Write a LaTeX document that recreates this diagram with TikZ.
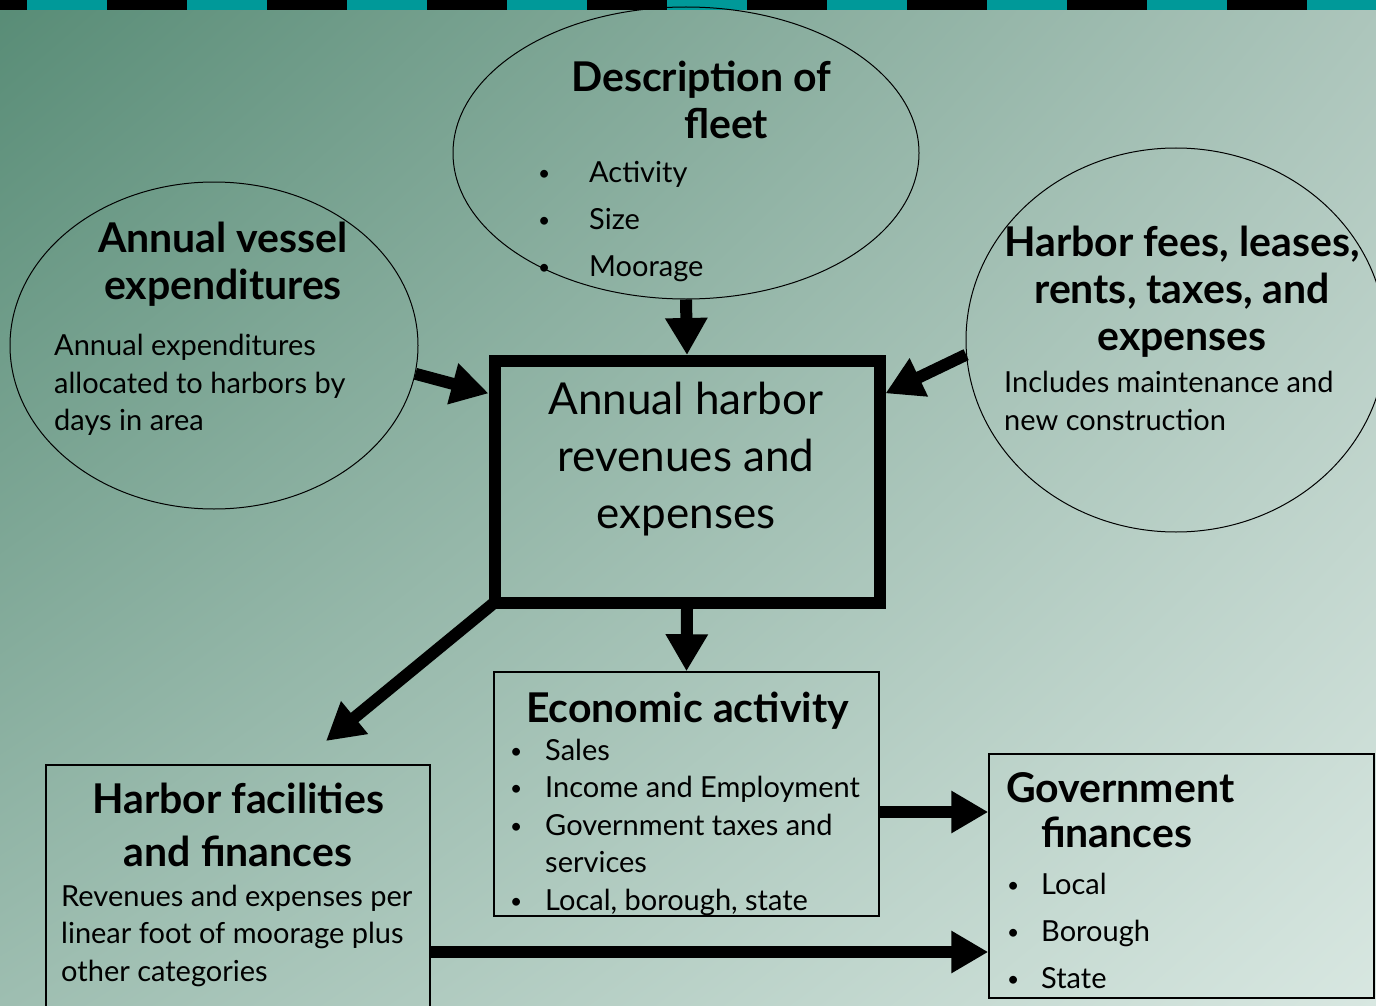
\documentclass[tikz,border=0pt]{standalone}
\usepackage{fontspec}
\setmainfont{Lato}
\usetikzlibrary{arrows.meta,shapes.geometric,shadings}

\definecolor{stripeteal}{RGB}{0,153,153}
\definecolor{bgtl}{RGB}{88,140,118}
\definecolor{bgtr}{RGB}{172,197,187}
\definecolor{bgbl}{RGB}{158,190,177}
\definecolor{bgbr}{RGB}{216,231,225}

\tikzset{
  bubble/.style={draw, ellipse, line width=1pt, inner sep=0pt},
  panel/.style={draw, line width=1.5pt, inner sep=0pt},
  bigarrow/.style={line width=12pt, -{Triangle[width=40pt,length=37pt]}},
  title/.style={font=\fontsize{41}{47}\selectfont\bfseries, align=center, inner sep=0pt},
  body/.style={font=\fontsize{29}{37.5}\selectfont, align=left, inner sep=0pt},
}
\newcommand{\bul}[1]{\makebox[#1][l]{\raisebox{2pt}{\fontsize{21}{21}\selectfont\textbullet}}}

\begin{document}
\begin{tikzpicture}[x=1pt,y=-1pt]
\useasboundingbox (0,0) rectangle (1376,1006);
\clip (0,0) rectangle (1376,1006);
% background and top stripe
\shade[upper left=bgtl, upper right=bgtr, lower left=bgbl, lower right=bgbr]
  (0,0) rectangle (1376,1006);
\fill[black] (0,0) rectangle (1376,10);
\foreach \x in {27,187,...,1347}
  \fill[stripeteal] (\x,0) rectangle ++(80,10);

% bubbles
\node[bubble, minimum width=466pt, minimum height=292pt] (fleet) at (686,153) {};
\node[bubble, minimum width=408pt, minimum height=327pt] (vessel) at (214,345.5) {};
\node[bubble, minimum width=420pt, minimum height=384pt] (fees) at (1176,340) {};

% boxes
\node[draw, line width=12pt, inner sep=0pt, minimum width=385pt, minimum height=241.5pt] (hub) at (687,481.75) {};
\node[panel, minimum width=385pt, minimum height=244pt] (econ) at (686.5,794) {};
\node[panel, minimum width=384pt, minimum height=250pt] (facil) at (238,890) {};
\node[panel, minimum width=385pt, minimum height=244pt] (gov) at (1181.5,876) {};

% texts
\node[title, anchor=west, align=left] (fleettitle) at (571,100) {Description of\\\hspace*{113pt}fleet};
\node[body, anchor=west, font=\fontsize{29}{47}\selectfont] (fleetlist) at (538,222)
  {\bul{51pt}Activity\\\bul{51pt}Size\\\bul{51pt}Moorage};
\node[title] (vesseltitle) at (223,264.5) {Annual vessel\\expenditures};
\node[body, anchor=west] (vesselbody) at (54,385) {Annual expenditures\\allocated to harbors by\\days in area};
\node[title] (feestitle) at (1182,292) {Harbor fees, leases,\\rents, taxes, and\\expenses};
\node[body, anchor=west] (feesbody) at (1004,401) {Includes maintenance and\\new construction};
\node[font=\fontsize{44}{57}\selectfont, align=center, inner sep=0pt] (hubtext) at (686,459.5)
  {Annual harbor\\revenues and\\expenses};
\node[title] (econtitle) at (687.5,711) {Economic activity};
\node[body, anchor=west] (econlist) at (510,827)
  {\bul{35pt}Sales\\\bul{35pt}Income and Employment\\\bul{35pt}Government taxes and\\\hspace*{35pt}services\\\bul{35pt}Local, borough, state};
\node[title, font=\fontsize{41}{53}\selectfont\bfseries] (faciltitle) at (238,825) {Harbor facilities\\and finances};
\node[body, anchor=west] (facilbody) at (61,935.5) {Revenues and expenses per\\linear foot of moorage plus\\other categories};
\node[title, anchor=west, align=left, font=\fontsize{41}{45}\selectfont\bfseries] (govtitle) at (1006,810) {Government\\\hspace*{35pt}finances};
\node[body, anchor=west, font=\fontsize{29}{47}\selectfont] (govlist) at (1007,931)
  {\bul{34pt}Local\\\bul{34pt}Borough\\\bul{34pt}State};

% arrows
\coordinate (facilin) at (326,741);
\coordinate (hubcorner) at ([xshift=6pt,yshift=6pt]hub.south west);
\coordinate (econout) at ([yshift=-18pt]econ.east);
\coordinate (facilout) at ([yshift=-62pt]facil.east);
\draw[bigarrow] (fleet.south) -- (hub.north);
\draw[bigarrow] (vessel.-8) -- (hub.156);
\draw[bigarrow] (fees.184) -- (hub.24.5);
\draw[bigarrow] (hub.south) -- (econ.north);
\draw[bigarrow] (hubcorner) -- (facilin);
\draw[bigarrow] (econout) -- (econout -| gov.west);
\draw[bigarrow] (facilout) -- (facilout -| gov.west);
\end{tikzpicture}
\end{document}
